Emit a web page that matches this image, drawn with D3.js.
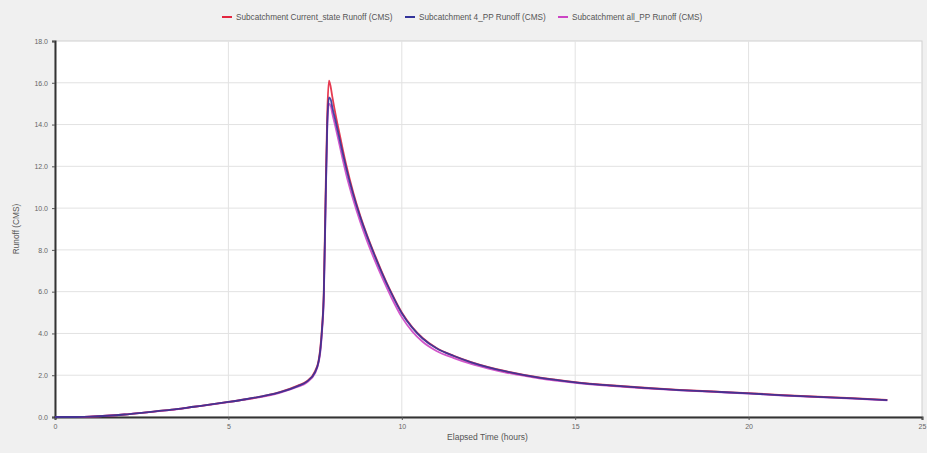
<!DOCTYPE html>
<html><head><meta charset="utf-8">
<script src="https://cdn.jsdelivr.net/npm/d3@7"></script>
<style>
html,body{margin:0;padding:0;background:#f0f0f0;}
svg{display:block;font-family:"Liberation Sans",Arial,sans-serif;}
</style></head>
<body>
<svg id="chart" width="927" height="453"></svg>
<script>
const seriesNames = ["Subcatchment Current_state Runoff (CMS)", "Subcatchment 4_PP Runoff (CMS)", "Subcatchment all_PP Runoff (CMS)"];
const seriesColors = ["#e3263f", "#33339a", "#cc44c4"];
const hours = [0,0.5,1,1.5,2,2.5,3,3.5,4,4.5,5,5.5,6,6.5,7,7.25,7.5,7.6,7.65,7.7,7.75,7.8,7.85,7.9,7.95,8.0,8.1,8.2,8.3,8.4,8.6,8.8,9.0,9.2,9.4,9.7,10,10.3,10.6,11,11.5,12,12.5,13,14,15,16,17,18,19,20,21,22,23,24];
const currentState = [0,0,0.02,0.06,0.12,0.2,0.29,0.38,0.49,0.6,0.72,0.85,1.0,1.2,1.5,1.7,2.2,2.7,3.3,4.3,6.0,10.5,14.5,16.1,15.8,15.3,14.4,13.6,12.8,12.05,10.75,9.65,8.7,7.85,7.05,5.95,5.0,4.3,3.78,3.3,2.93,2.63,2.39,2.19,1.88,1.67,1.52,1.4,1.3,1.22,1.14,1.05,0.97,0.9,0.82];
const pp4 = [0,0,0.02,0.06,0.12,0.2,0.29,0.38,0.49,0.6,0.72,0.85,1.0,1.19,1.48,1.68,2.15,2.65,3.2,4.2,5.8,10.0,14.0,15.3,15.2,14.8,14.1,13.35,12.6,11.9,10.65,9.58,8.65,7.8,7.0,5.92,4.97,4.28,3.76,3.29,2.92,2.62,2.38,2.18,1.87,1.66,1.51,1.39,1.29,1.21,1.13,1.04,0.96,0.89,0.81];
const ppAll = [0,0,0.02,0.06,0.12,0.2,0.28,0.37,0.48,0.59,0.71,0.84,0.98,1.17,1.45,1.64,2.1,2.6,3.1,4.1,5.6,9.8,13.8,15.0,14.9,14.5,13.8,13.05,12.3,11.6,10.4,9.35,8.42,7.58,6.8,5.72,4.78,4.1,3.6,3.16,2.82,2.54,2.32,2.13,1.84,1.64,1.49,1.37,1.28,1.2,1.12,1.03,0.95,0.88,0.8];
const yTicks = [0,2,4,6,8,10,12,14,16,18];
const xTicks = [0,5,10,15,20,25];
const xTitle = "Elapsed Time (hours)";
const yTitle = "Runoff (CMS)";

const svg = d3.select("#chart");
const m = {left:55, top:41, right:5, bottom:36};
const W = 927, H = 453;
const x = d3.scaleLinear().domain([0,25]).range([m.left, W - m.right]);
const y = d3.scaleLinear().domain([0,18]).range([H - m.bottom, m.top]);

// plot background
svg.append("rect").attr("x", x(0)).attr("y", y(18)).attr("width", x(25)-x(0)).attr("height", y(0)-y(18))
  .attr("fill", "#ffffff").attr("stroke", "#cfcfcf").attr("stroke-width", 1);

// grid
svg.append("g").selectAll("line").data(yTicks.slice(1,-1)).join("line")
  .attr("x1", x(0)).attr("x2", x(25)).attr("y1", d=>y(d)).attr("y2", d=>y(d))
  .attr("stroke", "#e2e2e2").attr("stroke-width", 1);
svg.append("g").selectAll("line").data(xTicks.slice(1,-1)).join("line")
  .attr("y1", y(0)).attr("y2", y(18)).attr("x1", d=>x(d)).attr("x2", d=>x(d))
  .attr("stroke", "#e2e2e2").attr("stroke-width", 1);

// axes
const yAxis = d3.axisLeft(y).tickValues(yTicks).tickFormat(d3.format(".1f")).tickSize(3).tickPadding(4);
const xAxis = d3.axisBottom(x).tickValues(xTicks).tickFormat(d3.format("d")).tickSize(3).tickPadding(4);
const gy = svg.append("g").attr("transform", `translate(${x(0)},0)`).call(yAxis);
const gx = svg.append("g").attr("transform", `translate(0,${y(0)})`).call(xAxis);
[gy, gx].forEach(g => {
  g.select(".domain").attr("stroke", "#333").attr("stroke-width", 2);
  g.selectAll(".tick line").attr("stroke", "#555");
  g.selectAll(".tick text").attr("fill", "#666").style("font-size", "7px");
});

// titles
svg.append("text").attr("x", (x(0)+x(25))/2 - 1).attr("y", 440).attr("text-anchor", "middle")
  .attr("fill", "#555").style("font-size", "8.5px").text(xTitle);
svg.append("text").attr("transform", `translate(19,${(y(0)+y(18))/2}) rotate(-90)`).attr("text-anchor", "middle")
  .attr("fill", "#555").style("font-size", "8.3px").text(yTitle);

// lines
const allSeries = [currentState, pp4, ppAll];
const line = d3.line().x((d,i)=>x(hours[i])).y(d=>y(d)).curve(d3.curveMonotoneX);
const drawOrder = [2, 0, 1];
drawOrder.forEach(k => {
  svg.append("path").datum(allSeries[k]).attr("d", line)
    .attr("fill", "none").attr("stroke", seriesColors[k]).attr("stroke-width", 1.8).attr("stroke-opacity", 0.9);
});

// legend
const legendX = [222, 405, 558];
const lg = svg.append("g");
seriesNames.forEach((n, i) => {
  lg.append("line").attr("x1", legendX[i]).attr("x2", legendX[i]+10).attr("y1", 17).attr("y2", 17)
    .attr("stroke", seriesColors[i]).attr("stroke-width", 2);
  lg.append("text").attr("x", legendX[i]+14).attr("y", 20).attr("fill", "#555").style("font-size", "8.2px").text(n);
});
</script>
</body></html>
